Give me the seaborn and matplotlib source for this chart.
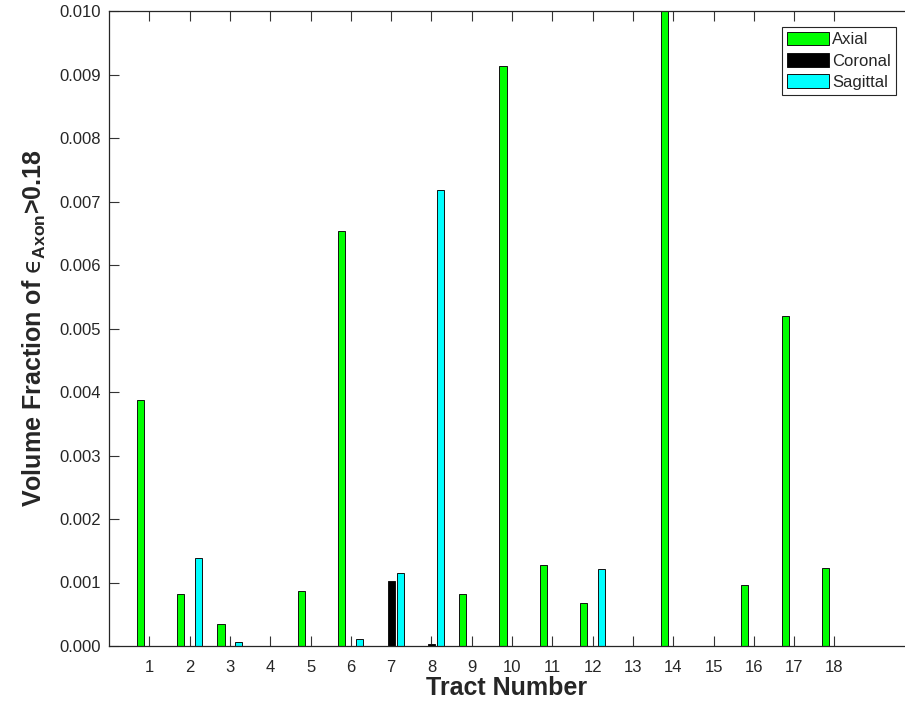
import numpy as np
import pandas as pd
import matplotlib
matplotlib.use("Agg")
import matplotlib.pyplot as plt
import seaborn as sns

tracts = list(range(1, 19))
axial = [0.00388, 0.00082, 0.00034, 0.0, 0.00086, 0.00654, 0.0, 0.0, 0.00082,
         0.00914, 0.00128, 0.00068, 0.0, 0.0100, 0.0, 0.00096, 0.00519, 0.00123]
coronal = [0.0, 0.0, 0.0, 0.0, 0.0, 0.0, 0.00103, 0.00003, 0.0,
           0.0, 0.0, 0.0, 0.0, 0.0, 0.0, 0.0, 0.0, 0.0]
sagittal = [0.0, 0.00138, 0.00006, 0.0, 0.0, 0.00011, 0.00115, 0.00718, 0.0,
            0.0, 0.0, 0.00122, 0.0, 0.0, 0.0, 0.0, 0.0, 0.0]
series_names = ["Axial", "Coronal", "Sagittal"]
colors = ["#00ff00", "#000000", "#00ffff"]

df = pd.DataFrame({
    "Tract": tracts * 3,
    "Value": axial + coronal + sagittal,
    "Series": [series_names[0]] * 18 + [series_names[1]] * 18 + [series_names[2]] * 18,
})

sns.set_style("white")
plt.rcParams["font.family"] = ["Liberation Sans", "DejaVu Sans"]
plt.rcParams["mathtext.fontset"] = "custom"
plt.rcParams["mathtext.rm"] = "DejaVu Sans"
plt.rcParams["mathtext.bf"] = "Liberation Sans:bold"
plt.rcParams["mathtext.it"] = "DejaVu Sans"

fig = plt.figure(figsize=(9.05, 7.13), dpi=100)
ax = fig.add_axes([109 / 905, 67 / 713, 796 / 905, 635 / 713])

sns.barplot(data=df, x="Tract", y="Value", hue="Series", hue_order=series_names,
            palette=colors, saturation=1, native_scale=True, width=0.667, gap=0.2,
            edgecolor="#111111", linewidth=0.7, ax=ax, legend=True)

ax.set_xlim(0, 19.75)
ax.set_ylim(0, 0.010)
ax.set_xticks(tracts)
ax.set_xticklabels([str(t) for t in tracts])
ax.set_yticks(np.arange(0, 0.0101, 0.001))
ax.set_yticklabels([f"{v:.3f}" for v in np.arange(0, 0.0101, 0.001)])
ax.tick_params(axis="both", direction="in", length=7, width=0.8, color="#333333",
               labelsize=12, labelcolor="#262626", top=True, bottom=True, left=True, right=False)
ax.tick_params(axis="y", pad=6)
ax.tick_params(axis="x", pad=10)

for s in ["left", "bottom", "top"]:
    ax.spines[s].set_color("#262626")
    ax.spines[s].set_linewidth(0.9)
ax.spines["right"].set_visible(False)

ax.set_xlabel("Tract Number", fontsize=18, fontweight="bold", color="#262626", labelpad=1)
ax.set_ylabel("Volume Fraction of $\u03f5_{\\mathbf{Axon}}$>0.18", fontsize=18,
              fontweight="bold", color="#262626", labelpad=8)

leg = ax.legend(loc="upper right", bbox_to_anchor=(896 / 905, 1 - 27 / 713),
                bbox_transform=fig.transFigure, fontsize=12, frameon=True, fancybox=False,
                framealpha=1, edgecolor="#262626", borderaxespad=0, handlelength=2.5,
                handleheight=0.85, handletextpad=0.2, labelspacing=0.35, borderpad=0.3,
                title=None)
leg.get_frame().set_linewidth(0.8)

fig.savefig("out.png", dpi=100)
